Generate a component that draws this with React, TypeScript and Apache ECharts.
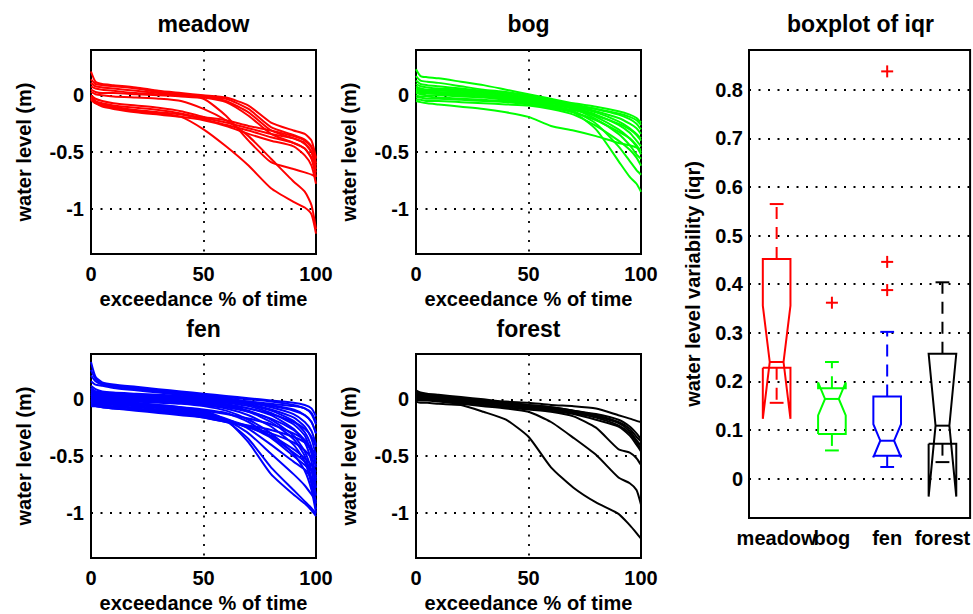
import React, { useEffect, useRef } from 'react';
import * as echarts from 'echarts';

// ---------- data ----------
const exceedancePct = [0, 2, 5, 10, 20, 30, 40, 50, 60, 70, 80, 90, 95, 98, 100];

const meadowCurves = [
  [0.21, 0.12, 0.10, 0.09, 0.07, 0.04, 0.02, 0.00, -0.02, -0.09, -0.24, -0.31, -0.34, -0.40, -0.55],
  [0.14, 0.10, 0.09, 0.08, 0.06, 0.03, 0.01, -0.01, -0.03, -0.12, -0.28, -0.35, -0.39, -0.45, -0.60],
  [0.11, 0.08, 0.07, 0.06, 0.04, 0.02, 0.00, -0.01, -0.05, -0.15, -0.31, -0.38, -0.42, -0.50, -0.65],
  [0.08, 0.06, 0.05, 0.04, 0.02, 0.01, 0.00, -0.02, -0.06, -0.18, -0.34, -0.42, -0.47, -0.56, -0.72],
  [0.05, 0.03, 0.02, 0.02, 0.01, 0.00, -0.01, -0.03, -0.18, -0.40, -0.59, -0.65, -0.68, -0.70, -0.72],
  [0.00, -0.03, -0.05, -0.07, -0.09, -0.11, -0.14, -0.19, -0.22, -0.27, -0.31, -0.36, -0.40, -0.46, -0.56],
  [-0.01, -0.05, -0.07, -0.09, -0.11, -0.13, -0.16, -0.20, -0.24, -0.29, -0.34, -0.38, -0.43, -0.50, -0.62],
  [-0.02, -0.06, -0.08, -0.10, -0.13, -0.15, -0.17, -0.21, -0.26, -0.31, -0.37, -0.42, -0.47, -0.55, -0.68],
  [-0.04, -0.07, -0.10, -0.12, -0.15, -0.17, -0.19, -0.22, -0.27, -0.34, -0.40, -0.45, -0.53, -0.62, -0.78],
  [-0.03, -0.07, -0.09, -0.11, -0.14, -0.16, -0.19, -0.30, -0.45, -0.62, -0.82, -0.94, -0.99, -1.05, -1.22],
  [0.03, 0.01, 0.00, -0.01, -0.02, -0.03, -0.05, -0.12, -0.22, -0.36, -0.56, -0.76, -0.85, -0.97, -1.18],
];

const bogCurves = [
  [0.23, 0.17, 0.16, 0.15, 0.12, 0.09, 0.05, 0.01, -0.03, -0.07, -0.10, -0.14, -0.17, -0.20, -0.24],
  [0.17, 0.13, 0.12, 0.11, 0.08, 0.05, 0.03, 0.00, -0.04, -0.08, -0.12, -0.17, -0.21, -0.25, -0.30],
  [0.13, 0.10, 0.09, 0.08, 0.06, 0.04, 0.02, -0.01, -0.05, -0.09, -0.14, -0.20, -0.25, -0.29, -0.34],
  [0.10, 0.08, 0.07, 0.06, 0.05, 0.03, 0.01, -0.02, -0.05, -0.10, -0.15, -0.23, -0.29, -0.34, -0.38],
  [0.08, 0.06, 0.05, 0.05, 0.04, 0.02, 0.00, -0.03, -0.06, -0.11, -0.17, -0.26, -0.33, -0.40, -0.45],
  [0.06, 0.05, 0.04, 0.04, 0.03, 0.01, -0.01, -0.04, -0.07, -0.11, -0.19, -0.30, -0.38, -0.45, -0.52],
  [0.04, 0.03, 0.03, 0.02, 0.01, 0.00, -0.02, -0.04, -0.08, -0.12, -0.21, -0.34, -0.44, -0.52, -0.56],
  [0.03, 0.02, 0.02, 0.01, 0.00, -0.01, -0.03, -0.05, -0.09, -0.14, -0.25, -0.45, -0.58, -0.66, -0.70],
  [0.02, 0.01, 0.00, 0.00, -0.01, -0.02, -0.04, -0.06, -0.10, -0.15, -0.30, -0.58, -0.72, -0.78, -0.85],
  [0.00, -0.01, -0.01, -0.02, -0.03, -0.04, -0.05, -0.07, -0.10, -0.13, -0.18, -0.25, -0.30, -0.35, -0.40],
  [-0.02, -0.02, -0.03, -0.03, -0.04, -0.05, -0.06, -0.08, -0.11, -0.15, -0.22, -0.32, -0.38, -0.44, -0.50],
  [-0.04, -0.04, -0.05, -0.05, -0.06, -0.07, -0.08, -0.09, -0.12, -0.17, -0.27, -0.40, -0.48, -0.55, -0.62],
  [-0.05, -0.06, -0.07, -0.08, -0.10, -0.12, -0.15, -0.19, -0.27, -0.31, -0.36, -0.42, -0.44, -0.46, -0.48],
  [0.05, 0.04, 0.04, 0.03, 0.02, 0.00, -0.02, -0.03, -0.06, -0.09, -0.12, -0.16, -0.19, -0.22, -0.26],
];

const fenCurves = [
  [0.33, 0.20, 0.15, 0.13, 0.11, 0.09, 0.07, 0.05, 0.03, 0.01, -0.01, -0.03, -0.05, -0.08, -0.15],
  [0.26, 0.18, 0.14, 0.12, 0.10, 0.08, 0.06, 0.04, 0.02, 0.00, -0.02, -0.05, -0.08, -0.13, -0.22],
  [0.21, 0.16, 0.13, 0.11, 0.09, 0.07, 0.05, 0.03, 0.01, -0.02, -0.05, -0.09, -0.14, -0.20, -0.30],
  [0.16, 0.13, 0.12, 0.10, 0.08, 0.06, 0.04, 0.02, 0.00, -0.03, -0.07, -0.13, -0.20, -0.28, -0.40],
  [0.12, 0.09, 0.07, 0.06, 0.05, 0.04, 0.03, 0.01, -0.01, -0.04, -0.09, -0.16, -0.24, -0.35, -0.50],
  [0.10, 0.07, 0.06, 0.05, 0.04, 0.03, 0.02, 0.00, -0.02, -0.05, -0.10, -0.19, -0.29, -0.42, -0.60],
  [0.08, 0.06, 0.05, 0.04, 0.03, 0.02, 0.01, -0.01, -0.03, -0.06, -0.12, -0.22, -0.32, -0.48, -0.70],
  [0.06, 0.04, 0.04, 0.03, 0.02, 0.01, 0.00, -0.02, -0.04, -0.08, -0.14, -0.26, -0.38, -0.55, -0.78],
  [0.05, 0.03, 0.03, 0.02, 0.01, 0.00, -0.01, -0.03, -0.05, -0.10, -0.18, -0.32, -0.46, -0.63, -0.85],
  [0.04, 0.02, 0.02, 0.01, 0.00, -0.01, -0.02, -0.04, -0.06, -0.11, -0.20, -0.35, -0.50, -0.70, -0.92],
  [0.03, 0.02, 0.01, 0.00, -0.01, -0.02, -0.03, -0.05, -0.08, -0.14, -0.24, -0.40, -0.55, -0.75, -0.97],
  [0.02, 0.01, 0.00, -0.01, -0.02, -0.03, -0.04, -0.06, -0.10, -0.18, -0.30, -0.48, -0.63, -0.80, -1.00],
  [0.01, 0.00, -0.01, -0.02, -0.03, -0.05, -0.07, -0.10, -0.18, -0.38, -0.66, -0.84, -0.92, -0.98, -1.03],
  [0.00, -0.01, -0.02, -0.03, -0.04, -0.06, -0.08, -0.11, -0.19, -0.35, -0.60, -0.80, -0.90, -0.96, -1.01],
  [-0.01, -0.02, -0.03, -0.04, -0.05, -0.07, -0.09, -0.12, -0.18, -0.30, -0.48, -0.66, -0.76, -0.84, -0.90],
  [-0.02, -0.03, -0.04, -0.05, -0.06, -0.08, -0.10, -0.13, -0.17, -0.26, -0.40, -0.55, -0.62, -0.70, -0.78],
  [-0.03, -0.04, -0.05, -0.06, -0.07, -0.09, -0.11, -0.14, -0.18, -0.24, -0.34, -0.50, -0.58, -0.63, -0.68],
  [-0.04, -0.05, -0.06, -0.07, -0.08, -0.10, -0.12, -0.15, -0.19, -0.25, -0.32, -0.44, -0.52, -0.58, -0.64],
  [-0.05, -0.06, -0.07, -0.08, -0.09, -0.11, -0.13, -0.16, -0.20, -0.24, -0.30, -0.38, -0.45, -0.52, -0.58],
  [-0.06, -0.06, -0.07, -0.08, -0.10, -0.12, -0.14, -0.16, -0.20, -0.23, -0.27, -0.33, -0.38, -0.45, -0.52],
  [0.07, 0.05, 0.04, 0.04, 0.03, 0.02, 0.01, 0.00, -0.01, -0.02, -0.04, -0.06, -0.08, -0.12, -0.20],
  [0.09, 0.07, 0.06, 0.05, 0.04, 0.03, 0.02, 0.01, -0.01, -0.03, -0.06, -0.10, -0.14, -0.20, -0.30],
  [0.02, 0.01, 0.00, 0.00, -0.01, -0.02, -0.03, -0.05, -0.07, -0.11, -0.17, -0.27, -0.36, -0.46, -0.55],
  [-0.01, -0.02, -0.03, -0.04, -0.05, -0.06, -0.08, -0.10, -0.13, -0.17, -0.22, -0.30, -0.36, -0.44, -0.48],
  [0.00, -0.01, -0.02, -0.03, -0.04, -0.05, -0.07, -0.09, -0.12, -0.20, -0.33, -0.47, -0.55, -0.62, -0.72],
  [0.04, 0.03, 0.02, 0.02, 0.01, 0.00, -0.01, -0.03, -0.05, -0.08, -0.13, -0.20, -0.26, -0.33, -0.42],
];

const forestCurves = [
  [0.08, 0.06, 0.05, 0.04, 0.02, 0.00, -0.02, -0.03, -0.05, -0.06, -0.08, -0.14, -0.17, -0.19, -0.20],
  [0.06, 0.05, 0.04, 0.03, 0.01, -0.01, -0.03, -0.05, -0.07, -0.10, -0.14, -0.20, -0.26, -0.33, -0.37],
  [0.04, 0.03, 0.03, 0.02, 0.00, -0.02, -0.04, -0.06, -0.08, -0.11, -0.15, -0.21, -0.28, -0.36, -0.41],
  [0.03, 0.02, 0.02, 0.01, -0.01, -0.03, -0.05, -0.07, -0.09, -0.12, -0.16, -0.23, -0.30, -0.38, -0.44],
  [0.02, 0.01, 0.01, 0.00, -0.02, -0.04, -0.06, -0.08, -0.10, -0.13, -0.18, -0.24, -0.32, -0.40, -0.46],
  [0.01, 0.00, 0.00, -0.01, -0.03, -0.05, -0.07, -0.09, -0.11, -0.15, -0.25, -0.44, -0.47, -0.52, -0.58],
  [0.00, -0.01, -0.01, -0.02, -0.04, -0.06, -0.08, -0.11, -0.20, -0.34, -0.49, -0.69, -0.74, -0.80, -0.93],
  [-0.02, -0.03, -0.03, -0.04, -0.05, -0.11, -0.18, -0.33, -0.60, -0.78, -0.91, -1.01, -1.11, -1.18, -1.23],
  [0.05, 0.04, 0.03, 0.02, 0.01, -0.01, -0.03, -0.05, -0.07, -0.10, -0.13, -0.18, -0.24, -0.30, -0.35],
];

const panelTitles = ['meadow', 'bog', 'fen', 'forest'];

const boxCategories = ['meadow', 'bog', 'fen', 'forest'];
const boxWhiskerLow = [0.156, 0.058, 0.024, 0.034];
const boxQ1 = [0.228, 0.092, 0.047, 0.072];
const boxNotchLow = [0.123, 0.130, 0.044, -0.037];
const boxMedian = [0.240, 0.164, 0.078, 0.109];
const boxNotchHigh = [0.356, 0.198, 0.112, 0.257];
const boxQ3 = [0.452, 0.186, 0.169, 0.257];
const boxWhiskerHigh = [0.565, 0.240, 0.302, 0.404];
const boxOutliers = [
  [1, 0.362],
  [2, 0.838],
  [2, 0.446],
  [2, 0.388],
];

// ---------- styling ----------
const FONT = '"Liberation Sans", Arial, Helvetica, sans-serif';
const groupColors = ['#ff0000', '#00ff00', '#0000ff', '#000000'];
const dotted = { color: '#000', type: [2, 7.5] as number[], width: 1.8 };

const panelLayout = [
  { left: 91, top: 50, width: 225, height: 204, titleX: 203.5, titleY: 24 },
  { left: 416, top: 50, width: 225, height: 204, titleX: 528.5, titleY: 24 },
  { left: 91, top: 354, width: 225, height: 204, titleX: 203.5, titleY: 328.5 },
  { left: 416, top: 354, width: 225, height: 204, titleX: 528.5, titleY: 328.5 },
];
const boxLayout = { left: 749, top: 50, width: 223, height: 468 };

const labelStyle = { fontSize: 20, fontWeight: 'bold' as const, color: '#000', fontFamily: FONT };

export default function App() {
  const ref = useRef<HTMLDivElement>(null);

  useEffect(() => {
    if (!ref.current) return;
    const chart = echarts.init(ref.current, null, { renderer: 'svg' });
    const allCurves = [meadowCurves, bogCurves, fenCurves, forestCurves];

    const grids: any[] = [];
    const xAxes: any[] = [];
    const yAxes: any[] = [];
    const series: any[] = [];
    const graphics: any[] = [];

    panelLayout.forEach((p, i) => {
      grids.push({
        left: p.left, top: p.top, width: p.width, height: p.height,
        show: true, borderColor: '#000', borderWidth: 2, containLabel: false,
      });
      xAxes.push({
        gridIndex: i, type: 'value', min: 0, max: 100, interval: 50,
        axisLine: { show: false }, axisTick: { show: false },
        splitLine: { show: true, lineStyle: dotted },
        axisLabel: { ...labelStyle, margin: 10 },
        name: 'exceedance % of time', nameLocation: 'middle', nameGap: 35,
        nameTextStyle: labelStyle,
      });
      yAxes.push({
        gridIndex: i, type: 'value', min: -1.4, max: 0.4, splitNumber: 4,
        axisLine: { show: false }, axisTick: { show: false },
        splitLine: { show: true, lineStyle: dotted },
        axisLabel: { ...labelStyle, margin: 7, showMinLabel: false, showMaxLabel: false },
        name: 'water level (m)', nameLocation: 'middle', nameGap: 57, nameRotate: 90,
        nameTextStyle: labelStyle,
      });
      allCurves[i].forEach((curve) => {
        series.push({
          type: 'line', xAxisIndex: i, yAxisIndex: i, silent: true,
          data: exceedancePct.map((x, k) => [x, curve[k]]),
          showSymbol: false, symbol: 'none', smooth: 0.2, clip: true,
          lineStyle: { color: groupColors[i], width: 2 },
          z: 3,
        });
      });
      graphics.push({
        type: 'text', x: p.titleX, y: p.titleY,
        style: {
          text: panelTitles[i], fill: '#000', fontSize: 23, fontWeight: 'bold', fontFamily: FONT,
          align: 'center', verticalAlign: 'middle',
        },
      });
    });

    // boxplot panel
    grids.push({ ...boxLayout, show: true, borderColor: '#000', borderWidth: 2 });
    xAxes.push({
      gridIndex: 4, type: 'category', data: boxCategories, boundaryGap: true,
      axisLine: { show: false }, axisTick: { show: false }, splitLine: { show: false },
      axisLabel: { ...labelStyle, interval: 0, margin: 10, hideOverlap: false },
    });
    yAxes.push({
      gridIndex: 4, type: 'value', min: -0.081, max: 0.882, splitNumber: 9,
      axisLine: { show: false }, axisTick: { show: false },
      splitLine: { show: true, lineStyle: dotted },
      axisLabel: { ...labelStyle, margin: 6, showMinLabel: false, showMaxLabel: false },
      name: 'water level variability (iqr)', nameLocation: 'middle', nameGap: 46, nameRotate: 90,
      nameTextStyle: labelStyle,
    });

    series.push({
      type: 'custom', xAxisIndex: 4, yAxisIndex: 4, silent: true, z: 3,
      data: boxCategories.map((_, i) => [
        i, boxWhiskerLow[i], boxQ1[i], boxNotchLow[i], boxMedian[i], boxNotchHigh[i], boxQ3[i], boxWhiskerHigh[i],
      ]),
      renderItem: (_params: any, api: any) => {
        const i = api.value(0);
        const cx = api.coord([i, 0])[0];
        const hw = api.size([1, 0])[0] * 0.25;
        const nw = hw / 2;
        const Y = (k: number) => api.coord([i, api.value(k)])[1];
        const wl = Y(1), q1 = Y(2), n1 = Y(3), md = Y(4), n2 = Y(5), q3 = Y(6), wh = Y(7);
        const L = cx - hw, R = cx + hw;
        const color = groupColors[i];
        const solid = { stroke: color, lineWidth: 2, fill: 'none' };
        const dash = { stroke: color, lineWidth: 2, fill: 'none', lineDash: [12, 8] };
        return {
          type: 'group',
          children: [
            {
              type: 'polyline',
              shape: {
                points: [[L, q1], [L, n1], [L + nw, md], [L, n2], [L, q3], [R, q3], [R, n2], [R - nw, md], [R, n1], [R, q1], [L, q1]],
              },
              style: solid,
            },
            { type: 'line', shape: { x1: L + nw, y1: md, x2: R - nw, y2: md }, style: solid },
            { type: 'line', shape: { x1: cx, y1: q3, x2: cx, y2: wh }, style: dash },
            { type: 'line', shape: { x1: cx, y1: q1, x2: cx, y2: wl }, style: dash },
            { type: 'line', shape: { x1: cx - nw, y1: wh, x2: cx + nw, y2: wh }, style: solid },
            { type: 'line', shape: { x1: cx - nw, y1: wl, x2: cx + nw, y2: wl }, style: solid },
          ],
        };
      },
    });

    series.push({
      type: 'custom', xAxisIndex: 4, yAxisIndex: 4, silent: true, z: 4,
      data: boxOutliers,
      renderItem: (_params: any, api: any) => {
        const [x, y] = api.coord([api.value(0), api.value(1)]);
        const s = 6;
        const st = { stroke: '#ff0000', lineWidth: 2 };
        return {
          type: 'group',
          children: [
            { type: 'line', shape: { x1: x - s, y1: y, x2: x + s, y2: y }, style: st },
            { type: 'line', shape: { x1: x, y1: y - s, x2: x, y2: y + s }, style: st },
          ],
        };
      },
    });

    graphics.push({
      type: 'text', x: 860.5, y: 24,
      style: {
        text: 'boxplot of iqr', fill: '#000', fontSize: 23, fontWeight: 'bold', fontFamily: FONT,
        align: 'center', verticalAlign: 'middle',
      },
    });

    chart.setOption({
      animation: false,
      backgroundColor: '#fff',
      textStyle: { fontFamily: FONT, fontWeight: 'bold', color: '#000' },
      grid: grids,
      xAxis: xAxes,
      yAxis: yAxes,
      series,
      graphic: graphics,
    });

    return () => chart.dispose();
  }, []);

  return (
    <div
      ref={ref}
      style={{ position: 'absolute', left: 0, top: 0, width: 973, height: 614, background: '#fff' }}
    />
  );
}
